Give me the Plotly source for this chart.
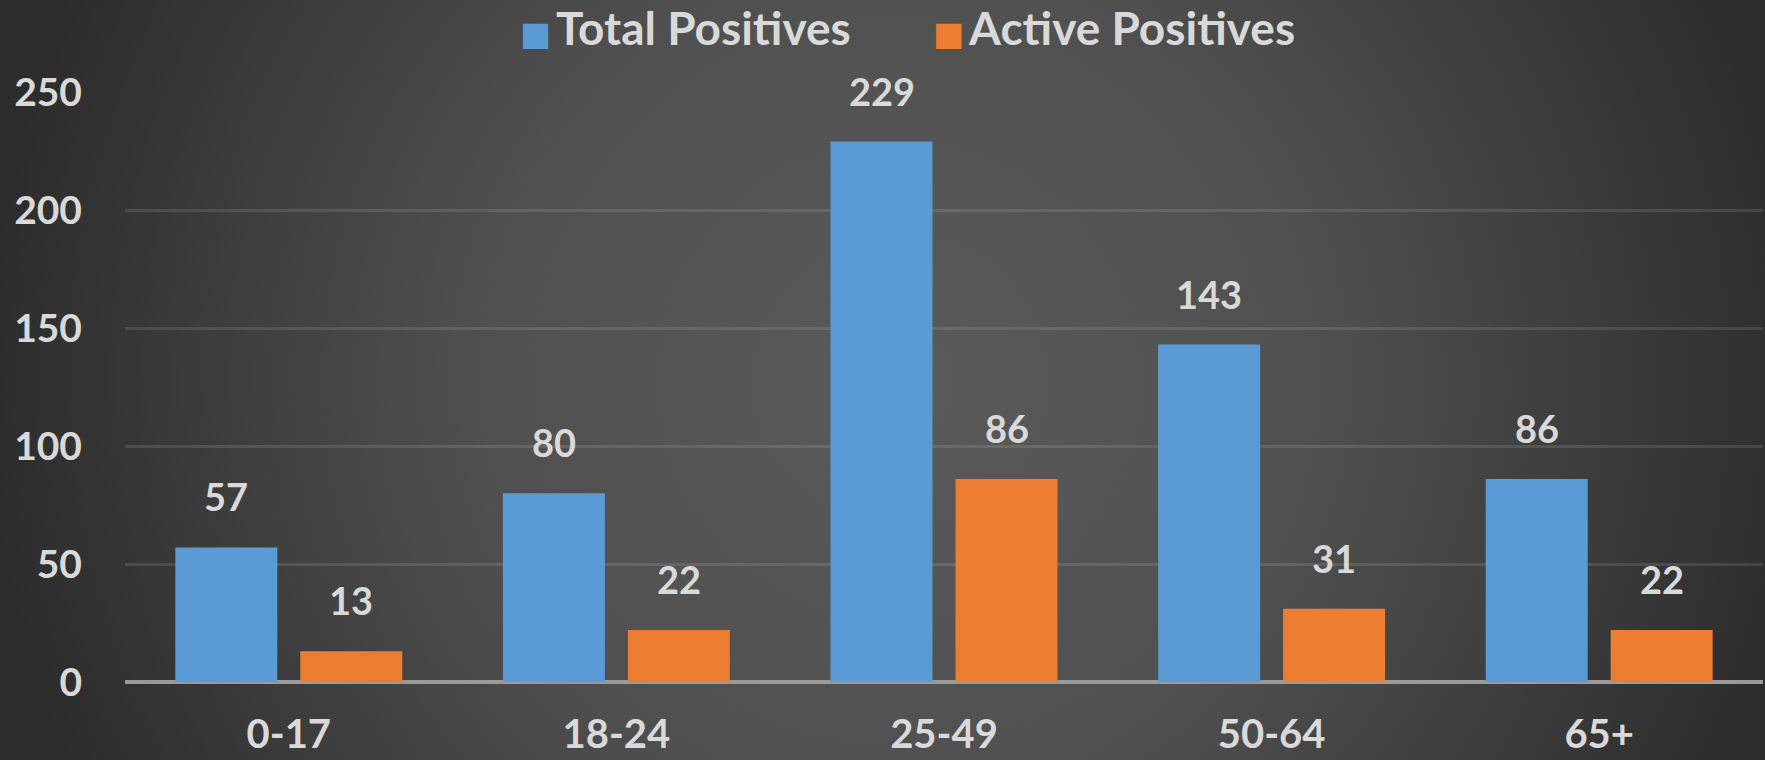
import base64
import plotly.graph_objects as go

categories = ["0-17", "18-24", "25-49", "50-64", "65+"]
total_positives = [57, 80, 229, 143, 86]
active_positives = [13, 22, 86, 31, 22]
y_ticks = [0, 50, 100, 150, 200, 250]

W, H = 1765, 760
ML, MR, MT, MB = 125, 2, 92, 78
PW, PH = W - ML - MR, H - MT - MB

FONT = "Lato"
TXT = "#d9d9d9"
BLUE = "#5b9bd5"
ORANGE = "#ed7d31"

svg = f'''<svg xmlns="http://www.w3.org/2000/svg" width="{W}" height="{H}" viewBox="0 0 {W} {H}">
<defs><radialGradient id="g" gradientUnits="userSpaceOnUse" cx="900" cy="380" r="920">
<stop offset="0%" stop-color="#5a5a5a"/><stop offset="45%" stop-color="#505050"/><stop offset="100%" stop-color="#2c2c2c"/>
</radialGradient></defs><rect width="{W}" height="{H}" fill="url(#g)"/></svg>'''
bg_uri = "data:image/svg+xml;base64," + base64.b64encode(svg.encode()).decode()


def swatch_name(color, label):
    return (f"<span style='color:{color};font-family:DejaVu Sans;font-size:33px'>■</span>"
            f"<span style='font-size:20px'> </span>{label}")


fig = go.Figure()
fig.add_trace(go.Bar(name="Total Positives", x=categories, y=total_positives, showlegend=False,
                     legendgroup="t", marker=dict(color=BLUE, line=dict(width=0))))
fig.add_trace(go.Bar(name="Active Positives", x=categories, y=active_positives, showlegend=False,
                     legendgroup="a", marker=dict(color=ORANGE, line=dict(width=0))))
# legend-only entries (swatch drawn as a large square glyph)
fig.add_trace(go.Scatter(name=swatch_name(BLUE, "Total Positives"), x=[None], y=[None],
                         mode="markers", legendgroup="t",
                         marker=dict(symbol="square", size=1, color="rgba(0,0,0,0)")))
fig.add_trace(go.Scatter(name=swatch_name(ORANGE, "Active Positives"), x=[None], y=[None],
                         mode="markers", legendgroup="a",
                         marker=dict(symbol="square", size=1, color="rgba(0,0,0,0)")))

annots = []
for series, shift in ((total_positives, -62.5), (active_positives, 62.5)):
    for c, v in zip(categories, series):
        annots.append(dict(x=c, y=v, xref="x", yref="y", text=str(v), showarrow=False,
                           xshift=shift, yanchor="bottom", yshift=26,
                           font=dict(family=FONT, size=38, color=TXT, weight="bold")))

fig.update_layout(
    width=W, height=H,
    margin=dict(l=ML, r=MR, t=MT, b=MB, pad=0, autoexpand=False),
    paper_bgcolor="#2c2c2c", plot_bgcolor="rgba(0,0,0,0)",
    barmode="group", bargap=0.237, bargroupgap=0.184,
    font=dict(family=FONT, color=TXT, size=38, weight="bold"),
    showlegend=True,
    legend=dict(orientation="h", x=(480 - ML) / PW, xanchor="left", y=1 + (MT + 9) / PH, yanchor="top",
                xref="paper", yref="paper",
                font=dict(family=FONT, size=46, color=TXT, weight="bold"),
                bgcolor="rgba(0,0,0,0)", itemwidth=30, entrywidthmode="pixels", entrywidth=368),
    xaxis=dict(type="category", showgrid=False, showline=False, zeroline=False, automargin=False,
               ticks="", ticklabelstandoff=25,
               tickfont=dict(family=FONT, size=40, color=TXT, weight="bold")),
    yaxis=dict(range=[0, 250], tickvals=y_ticks, showgrid=True, automargin=False,
               gridcolor="rgba(255,255,255,0.11)", gridwidth=3,
               zeroline=True, zerolinecolor="#9a9a9a", zerolinewidth=4,
               showline=False, ticks="", ticklabelstandoff=42,
               tickfont=dict(family=FONT, size=39, color=TXT, weight="bold")),
    annotations=annots,
    images=[dict(source=bg_uri, xref="paper", yref="paper",
                 x=-ML / PW, y=1 + MT / PH, sizex=W / PW, sizey=H / PH,
                 xanchor="left", yanchor="top", sizing="stretch", layer="below")],
)

fig.write_html("out.html", config={"displayModeBar": False},
               post_script="document.body.style.margin='0';document.body.style.overflow='hidden';")
